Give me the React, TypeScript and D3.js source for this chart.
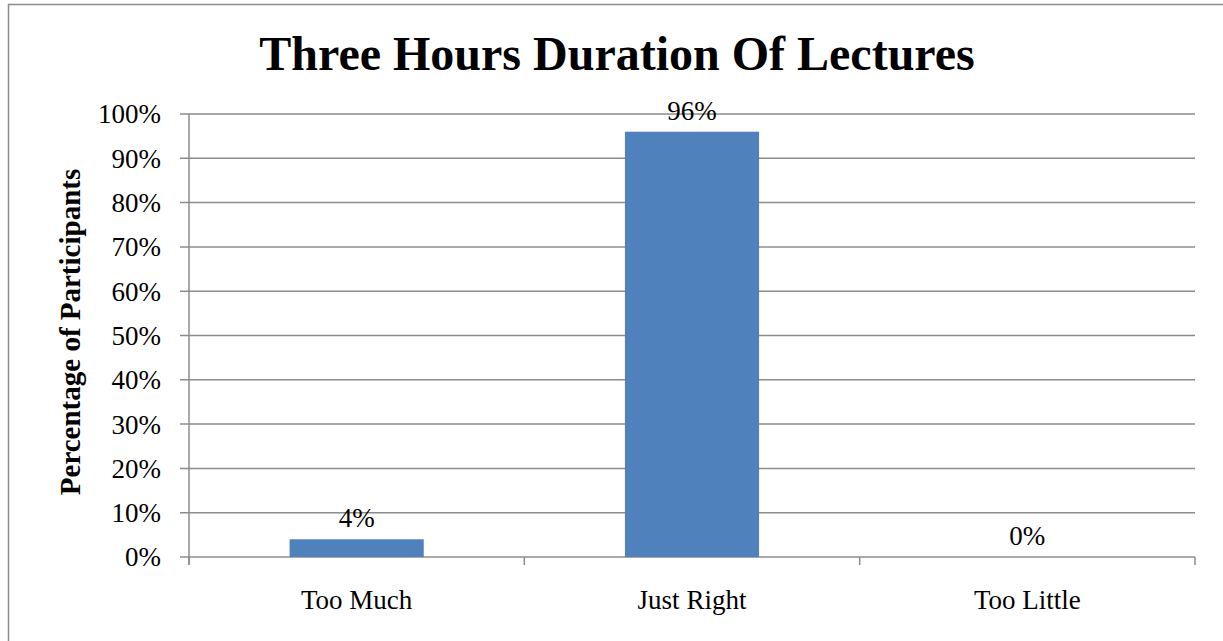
import React from "react";
import * as d3 from "d3";

const categories = ["Too Much", "Just Right", "Too Little"];
const values = [4, 96, 0];
const yTicks = [0, 10, 20, 30, 40, 50, 60, 70, 80, 90, 100];
const title = "Three Hours Duration Of Lectures";
const yTitle = "Percentage of Participants";

const W = 1223;
const H = 641;
const plot = { left: 189, right: 1195, top: 114, bottom: 557 };
const FONT = "'Liberation Serif', 'Times New Roman', serif";
const GRID = "#8c8c8c";
const BAR = "#4f81bd";

export default function App() {
  const x = d3
    .scaleBand<string>()
    .domain(categories)
    .range([plot.left, plot.right])
    .paddingInner(0.6)
    .paddingOuter(0.3);
  const band = d3.scaleBand<string>().domain(categories).range([plot.left, plot.right]);
  const y = d3.scaleLinear().domain([0, 100]).range([plot.bottom, plot.top]);
  const boundaries = [...categories.map((c) => band(c) as number), plot.right];

  return (
    <svg
      width={W}
      height={H}
      style={{ position: "fixed", left: 0, top: 0, background: "#fff" }}
      fontFamily={FONT}
    >
      <rect x={0} y={0} width={W} height={H} fill="#fff" />
      <rect x={8.5} y={4.5} width={W + 20} height={H + 20} fill="none" stroke={GRID} strokeWidth={1.5} />
      <text x={617} y={70} textAnchor="middle" fontSize={48} fontWeight="bold" fill="#000">
        {title}
      </text>
      {yTicks.map((t) => (
        <g key={t}>
          <line x1={plot.left - 9} x2={plot.right} y1={y(t)} y2={y(t)} stroke={GRID} strokeWidth={1.5} />
          <text x={161} y={y(t)} dy="0.35em" textAnchor="end" fontSize={27} fill="#000">
            {t}%
          </text>
        </g>
      ))}
      <line x1={plot.left} x2={plot.left} y1={plot.top} y2={plot.bottom + 8} stroke={GRID} strokeWidth={1.5} />
      {boundaries.map((b, i) => (
        <line key={i} x1={b} x2={b} y1={plot.bottom} y2={plot.bottom + 8} stroke={GRID} strokeWidth={1.5} />
      ))}
      {categories.map((c, i) => (
        <g key={c}>
          <rect
            x={x(c)}
            y={y(values[i])}
            width={x.bandwidth()}
            height={plot.bottom - y(values[i])}
            fill={BAR}
          />
          <text
            x={(x(c) as number) + x.bandwidth() / 2}
            y={y(values[i]) - 12}
            textAnchor="middle"
            fontSize={27}
            fill="#000"
          >
            {values[i]}%
          </text>
          <text
            x={(x(c) as number) + x.bandwidth() / 2}
            y={609}
            textAnchor="middle"
            fontSize={27}
            fill="#000"
          >
            {c}
          </text>
        </g>
      ))}
      <text
        transform={`translate(80, 332) rotate(-90)`}
        textAnchor="middle"
        fontSize={29}
        fontWeight="bold"
        fill="#000"
      >
        {yTitle}
      </text>
    </svg>
  );
}
